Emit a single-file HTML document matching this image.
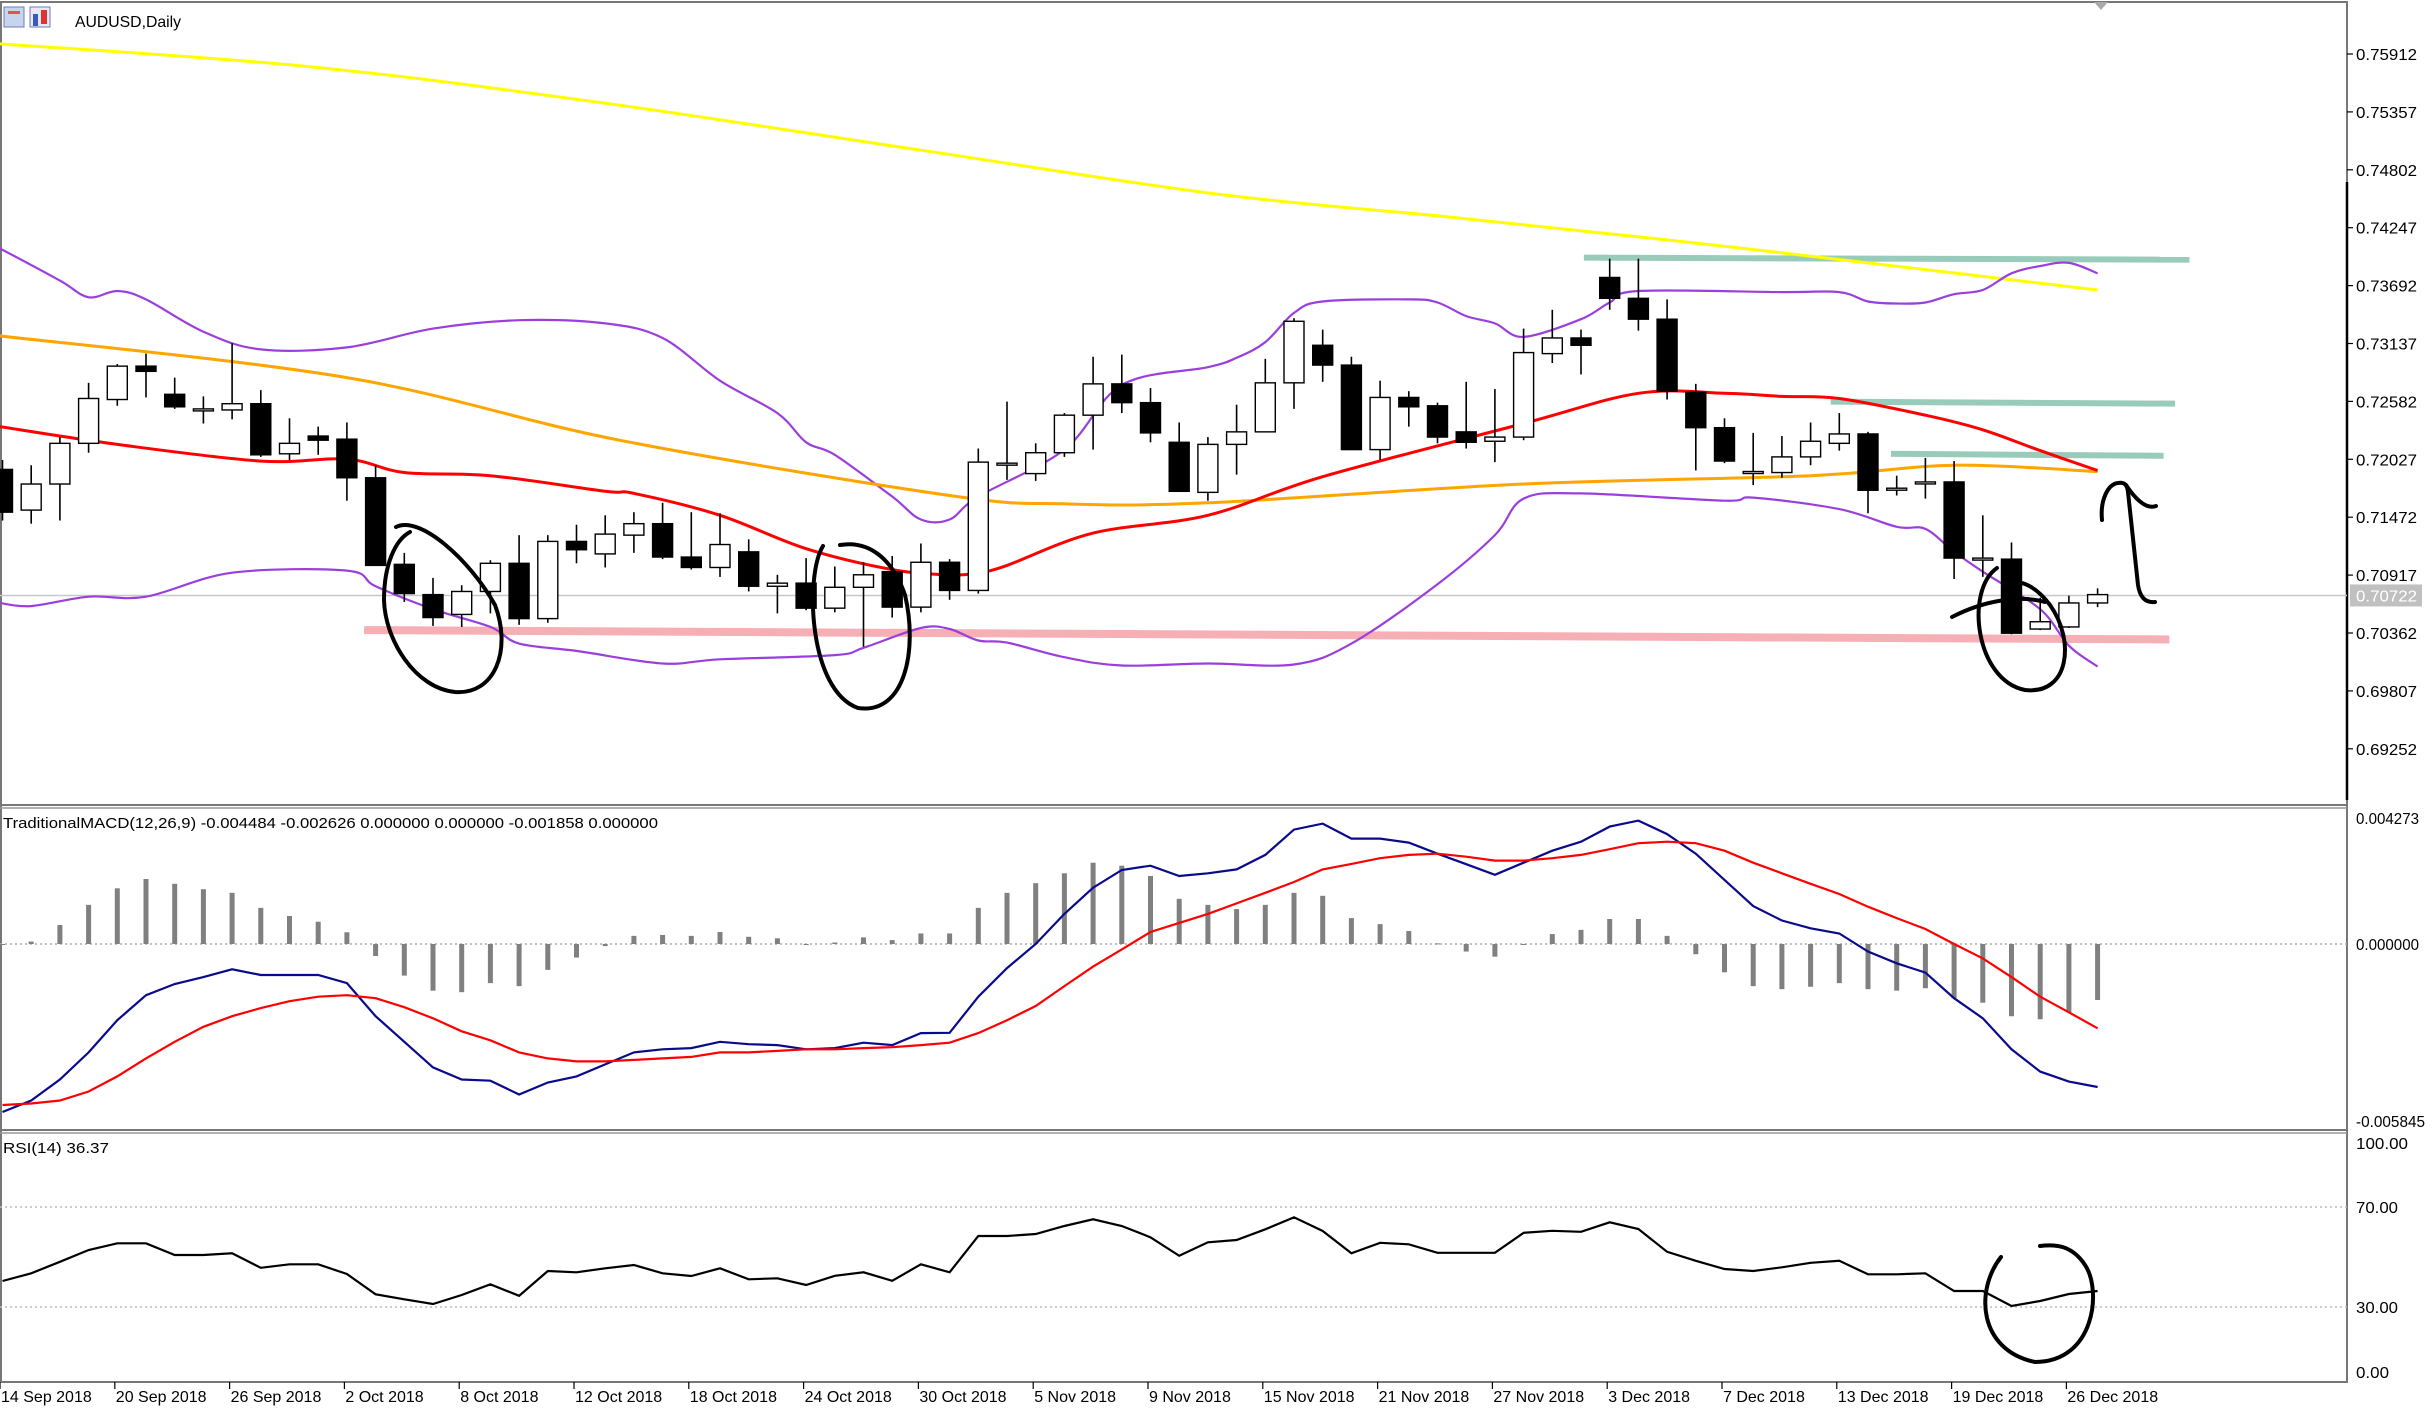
<!DOCTYPE html>
<html><head><meta charset="utf-8"><title>AUDUSD Daily</title>
<style>
html,body{margin:0;padding:0;background:#fff;}
svg{display:block;font-family:"Liberation Sans",sans-serif;}
</style></head>
<body>
<svg id="chart" width="2434" height="1413" viewBox="0 0 2434 1413" xmlns="http://www.w3.org/2000/svg">
<rect x="0" y="0" width="2434" height="1413" fill="#fff"/>
<g id="frame">
<rect x="1" y="2" width="2346" height="1380" fill="none" stroke="#777" stroke-width="2"/>
<line x1="0" y1="805" x2="2347" y2="805" stroke="#777" stroke-width="2"/>
<line x1="0" y1="808" x2="2347" y2="808" stroke="#999" stroke-width="1.5"/>
<line x1="0" y1="1130" x2="2347" y2="1130" stroke="#777" stroke-width="2"/>
<line x1="0" y1="1133" x2="2347" y2="1133" stroke="#999" stroke-width="1.5"/>
<line x1="2347" y1="182" x2="2347" y2="800" stroke="#000" stroke-width="2.5"/>
<polygon points="2094,2 2108,2 2101,10" fill="#aaa"/>
</g>
<g>
<rect x="4" y="7" width="20" height="20" fill="#c8d4ee" stroke="#6a7fb8"/>
<rect x="8" y="11" width="12" height="3" fill="#d55"/>
<rect x="30" y="7" width="20" height="20" fill="#e8e8f4" stroke="#6a7fb8"/>
<rect x="33" y="14" width="5" height="12" fill="#3b5bbb"/>
<rect x="41" y="10" width="6" height="14" fill="#d33"/>
<text x="75" y="27" font-size="16" textLength="106" lengthAdjust="spacingAndGlyphs" fill="#000">AUDUSD,Daily</text>
</g>
<g id="gMain"></g>
<g id="gMacd"></g>
<g id="gRsi"></g>
<g id="gAxis"></g>
<g id="gAnno"></g>
</svg>
<script>
// ---------- data ----------
const dateLabels = ["14 Sep 2018","20 Sep 2018","26 Sep 2018","2 Oct 2018","8 Oct 2018","12 Oct 2018","18 Oct 2018","24 Oct 2018","30 Oct 2018","5 Nov 2018","9 Nov 2018","15 Nov 2018","21 Nov 2018","27 Nov 2018","3 Dec 2018","7 Dec 2018","13 Dec 2018","19 Dec 2018","26 Dec 2018"];
const dateBarIdx = [0,4,8,12,16,20,24,28,32,36,40,44,48,52,56,60,64,68,72];
const opens  = [0.7193,0.7154,0.7179,0.7218,0.7260,0.7292,0.7265,0.7251,0.7250,0.7256,0.7208,0.7225,0.7222,0.7185,0.7102,0.7073,0.7054,0.7076,0.7103,0.7050,0.7124,0.7112,0.7130,0.7141,0.7109,0.7099,0.7114,0.7081,0.7084,0.7060,0.7080,0.7095,0.7061,0.7104,0.7077,0.7199,0.7189,0.7209,0.7245,0.7275,0.7257,0.7219,0.7171,0.7217,0.7229,0.7276,0.7312,0.7293,0.7212,0.7262,0.7254,0.7229,0.7220,0.7224,0.7304,0.7319,0.7377,0.7357,0.7337,0.7267,0.7233,0.7191,0.7190,0.7205,0.7218,0.7227,0.7175,0.7181,0.7181,0.7108,0.7107,0.7040,0.7042,0.7065];
const highs  = [0.7202,0.7197,0.7224,0.7276,0.7294,0.7304,0.7281,0.7263,0.7314,0.7269,0.7242,0.7234,0.7238,0.7197,0.7113,0.7089,0.7082,0.7106,0.7130,0.7130,0.7140,0.7149,0.7152,0.7161,0.7152,0.7151,0.7126,0.7092,0.7108,0.7100,0.7104,0.7110,0.7122,0.7107,0.7213,0.7258,0.7218,0.7247,0.7301,0.7303,0.7271,0.7238,0.7224,0.7255,0.7299,0.7338,0.7327,0.7301,0.7278,0.7268,0.7257,0.7277,0.7270,0.7328,0.7346,0.7327,0.7395,0.7395,0.7356,0.7275,0.7242,0.7228,0.7225,0.7238,0.7247,0.7229,0.7187,0.7204,0.7201,0.7149,0.7123,0.7070,0.7072,0.7079];
const lows   = [0.7144,0.7141,0.7144,0.7209,0.7254,0.7262,0.7251,0.7237,0.7241,0.7205,0.7202,0.7207,0.7163,0.7101,0.7066,0.7043,0.7042,0.7055,0.7044,0.7046,0.7103,0.7099,0.7113,0.7107,0.7097,0.7090,0.7076,0.7055,0.7058,0.7056,0.7023,0.7051,0.7056,0.7068,0.7074,0.7183,0.7182,0.7205,0.7212,0.7247,0.7219,0.7172,0.7163,0.7188,0.7229,0.7251,0.7277,0.7212,0.7202,0.7234,0.7218,0.7213,0.7200,0.7221,0.7295,0.7284,0.7346,0.7326,0.7260,0.7192,0.7199,0.7178,0.7185,0.7197,0.7211,0.7151,0.7168,0.7165,0.7088,0.7090,0.7035,0.7039,0.7041,0.7061];
const closes = [0.7152,0.7179,0.7218,0.7261,0.7292,0.7287,0.7253,0.7251,0.7256,0.7207,0.7218,0.7221,0.7185,0.7101,0.7074,0.7051,0.7076,0.7103,0.7050,0.7124,0.7116,0.7131,0.7141,0.7109,0.7099,0.7121,0.7081,0.7084,0.7060,0.7080,0.7092,0.7061,0.7104,0.7077,0.7200,0.7199,0.7209,0.7245,0.7275,0.7257,0.7228,0.7172,0.7217,0.7229,0.7276,0.7335,0.7293,0.7212,0.7262,0.7253,0.7224,0.7219,0.7224,0.7305,0.7319,0.7312,0.7357,0.7337,0.7268,0.7233,0.7201,0.7191,0.7205,0.7220,0.7227,0.7173,0.7175,0.7181,0.7108,0.7108,0.7036,0.7047,0.7065,0.7073];

const ma200Idx = [-0.1,10.7,21,32,42.3,50.4,58,65,73];
const ma200Val = [0.7601,0.7579,0.7544,0.7499,0.7457,0.7435,0.7413,0.7391,0.7365];
const ma100Idx = [-0.1,12,21.5,33,37,42,53,63,68,73];
const ma100Val = [0.7321,0.7281,0.7221,0.7168,0.7160,0.7161,0.7179,0.7187,0.7197,0.7191];
const ma20Idx = [-0.1,4,9,12,14,17,21,22,25,28,31,33,34,35,38,42,46,53,57,60,62,64,67,69,71,73];
const ma20Val = [0.7234,0.7217,0.7201,0.7203,0.7190,0.7187,0.7172,0.7170,0.7149,0.7117,0.7097,0.7092,0.7094,0.7101,0.7132,0.7149,0.7186,0.7237,0.7266,0.7266,0.7263,0.7261,0.7245,0.7231,0.7211,0.7192];
const bbUpIdx = [-0.1,2,3,4,5,7,9,12,15,18,21,23,25,27,28,29,31,32,33,34,37,39,42,43,44,45,46,49,50,51,52,53,55,56,57,62,64,65,66,67,68,69,70,71,72,73];
const bbUpVal = [0.7405,0.7374,0.7358,0.7364,0.7356,0.7325,0.7308,0.7310,0.7328,0.7336,0.7333,0.7319,0.7278,0.7247,0.7219,0.7207,0.7167,0.7145,0.7145,0.7167,0.7212,0.7274,0.7291,0.7300,0.7315,0.7343,0.7354,0.7356,0.7353,0.7340,0.7333,0.7320,0.7337,0.7353,0.7364,0.7363,0.7363,0.7354,0.7352,0.7353,0.7361,0.7365,0.7381,0.7388,0.7391,0.7381];
const bbLoIdx = [-0.1,1,3,5,8,12,13,15,17,18,20,23,25,29,30,32,33,34,35,37,39,42,45,47,50,52,53,55,60,61,64,66,67,68,69,71,72,73];
const bbLoVal = [0.7065,0.7062,0.7071,0.7071,0.7094,0.7096,0.7081,0.7059,0.7042,0.7026,0.7019,0.7007,0.7011,0.7015,0.7022,0.7041,0.7040,0.7029,0.7027,0.7013,0.7005,0.7007,0.7006,0.7026,0.7083,0.7130,0.7165,0.7170,0.7163,0.7166,0.7155,0.7138,0.7136,0.7114,0.7095,0.7059,0.7024,0.7004];

const priceTicks = [0.75912,0.75357,0.74802,0.74247,0.73692,0.73137,0.72582,0.72027,0.71472,0.70917,0.70362,0.69807,0.69252];
const currentPrice = 0.70722;

const macdHist = [0,0.00008,0.00063,0.0013,0.00185,0.00216,0.0020,0.00182,0.0017,0.0012,0.00093,0.00074,0.00039,-0.0004,-0.00105,-0.00155,-0.0016,-0.0013,-0.0014,-0.00086,-0.00045,-0.00007,0.00027,0.0003,0.00027,0.0004,0.00024,0.00019,0,0.00005,0.00022,0.00013,0.00035,0.00035,0.0012,0.0017,0.00202,0.00235,0.0027,0.0026,0.00226,0.0015,0.0013,0.00116,0.0013,0.0017,0.0016,0.00086,0.00066,0.00043,0.00002,-0.00025,-0.00042,0,0.00033,0.00047,0.00083,0.00083,0.00027,-0.00034,-0.00094,-0.0014,-0.0015,-0.00142,-0.0013,-0.0015,-0.00155,-0.00147,-0.0018,-0.00195,-0.0024,-0.0025,-0.00227,-0.00186];
const macdMain = [-0.00558,-0.0052,-0.0045,-0.0036,-0.00253,-0.0017,-0.00133,-0.0011,-0.00084,-0.00103,-0.00103,-0.00103,-0.0013,-0.0024,-0.00325,-0.0041,-0.0045,-0.00454,-0.005,-0.0046,-0.0044,-0.004,-0.0036,-0.0035,-0.00346,-0.00325,-0.00333,-0.00336,-0.0035,-0.00346,-0.00328,-0.00336,-0.00296,-0.00295,-0.00175,-0.0008,0,0.001,0.00187,0.00246,0.0026,0.00226,0.00235,0.00248,0.00296,0.0038,0.004,0.0035,0.0035,0.00337,0.0030,0.00265,0.0023,0.0027,0.0031,0.0034,0.0039,0.0041,0.00365,0.0030,0.00213,0.00126,0.00078,0.00052,0.00035,-0.00025,-0.00064,-0.00095,-0.0018,-0.00247,-0.0035,-0.00424,-0.00457,-0.00475];
const macdSignal = [-0.00535,-0.0053,-0.0052,-0.0049,-0.0044,-0.0038,-0.00325,-0.00275,-0.0024,-0.00213,-0.0019,-0.00175,-0.0017,-0.0018,-0.0021,-0.00247,-0.0029,-0.0032,-0.0036,-0.0038,-0.0039,-0.0039,-0.00385,-0.0038,-0.00375,-0.0036,-0.0036,-0.00355,-0.0035,-0.0035,-0.00346,-0.00343,-0.00336,-0.00328,-0.00296,-0.00253,-0.00206,-0.0014,-0.00075,-0.00018,0.0004,0.0007,0.001,0.00135,0.0017,0.00206,0.00248,0.00266,0.00285,0.00296,0.003,0.0029,0.00277,0.00277,0.00285,0.00296,0.00315,0.00335,0.0034,0.00335,0.0031,0.0027,0.00235,0.002,0.00166,0.00124,0.00086,0.0005,0,-0.00048,-0.0011,-0.00175,-0.00227,-0.0028];
const macdTicks = [0.004273,0,-0.005845];
const macdTickText = ["0.004273","0.000000","-0.005845"];

const rsiVals = [40.4,43.5,48.1,52.8,55.5,55.5,50.8,50.8,51.5,45.7,47.1,47.1,43.2,35.1,33.1,31.2,34.8,39.1,34.5,44.4,43.9,45.5,46.8,43.5,42.4,45.5,41.1,41.5,38.8,42.5,43.9,40.5,47.1,43.9,58.4,58.4,59.2,62.4,65.1,62.4,57.9,50.5,55.9,56.8,61.1,65.9,60.4,51.5,55.7,55.1,51.7,51.7,51.7,59.7,60.5,60.1,63.9,61.2,52.1,48.5,45.2,44.4,45.9,47.7,48.5,43.1,43.1,43.5,36.4,36.4,30.4,32.4,35.2,36.4];
const rsiTicks = [100,70,30,0];
const rsiTickText = ["100.00","70.00","30.00","0.00"];

const greenLevels = [0.7395,0.7257,0.7207];
const greenFrom = [55.1,63.7,65.8];
const greenTo = [76.2,75.7,75.3];
const supportFrom = [12.6,0.7039];
const supportTo = [75.5,0.7030];

// ---------- scales ----------
const NS = "http://www.w3.org/2000/svg";
const xB = i => 2.5 + 28.7 * i;
const yP = p => 54 + (0.75912 - p) / 0.00555 * 57.9;
const yM = v => 944 - v * 30100;
const yR = v => 1382 - v * 2.5;
function mk(tag, attrs, parent){
  const e = document.createElementNS(NS, tag);
  for (const k in attrs) e.setAttribute(k, attrs[k]);
  parent.appendChild(e);
  return e;
}
function smoothPath(idx, vals, fy){
  const P = idx.map((i,k)=>[xB(i), fy(vals[k])]);
  let d = "M"+P[0][0].toFixed(1)+","+P[0][1].toFixed(1);
  for (let k=0;k<P.length-1;k++){
    const p0 = P[Math.max(k-1,0)], p1 = P[k], p2 = P[k+1], p3 = P[Math.min(k+2,P.length-1)];
    const c1x = p1[0]+(p2[0]-p0[0])/6, c1y = p1[1]+(p2[1]-p0[1])/6;
    const c2x = p2[0]-(p3[0]-p1[0])/6, c2y = p2[1]-(p3[1]-p1[1])/6;
    d += " C"+c1x.toFixed(1)+","+c1y.toFixed(1)+" "+c2x.toFixed(1)+","+c2y.toFixed(1)+" "+p2[0].toFixed(1)+","+p2[1].toFixed(1);
  }
  return d;
}
const gMain = document.getElementById('gMain');
const gMacd = document.getElementById('gMacd');
const gRsi = document.getElementById('gRsi');
const gAxis = document.getElementById('gAxis');
const gAnno = document.getElementById('gAnno');

// current price line
let cl = mk('line',{x1:0,x2:2347,y1:yP(currentPrice),y2:yP(currentPrice),stroke:'#c8c8c8','stroke-width':1.5}, gMain);



// support & resistance annotation lines
let sup = mk('line',{x1:xB(supportFrom[0]),y1:yP(supportFrom[1]),x2:xB(supportTo[0]),y2:yP(supportTo[1]),stroke:'rgba(238,95,105,0.5)','stroke-width':8}, gMain);


greenLevels.forEach((p,k)=>{
  const g = mk('line',{x1:xB(greenFrom[k]),x2:xB(greenTo[k]),y1:yP(p)-1,y2:yP(p)+1,stroke:'rgba(70,160,130,0.55)','stroke-width':6}, gMain);
  
  
});

// moving averages and bands
const lines = [
  [ma200Idx, ma200Val, '#ffff00', 3, 'ma-yellow'],
  [bbUpIdx, bbUpVal, '#9b3fdc', 2.2, 'bollinger-upper'],
  [bbLoIdx, bbLoVal, '#9b3fdc', 2.2, 'bollinger-lower'],
  [ma100Idx, ma100Val, '#ffa500', 3, 'ma-orange'],
  [ma20Idx, ma20Val, '#ff0000', 3, 'ma-red']
];
lines.forEach(L=>{
  const pl = mk('path',{d:smoothPath(L[0],L[1],yP),fill:'none',stroke:L[2],'stroke-width':L[3],'stroke-linejoin':'round'}, gMain);
  
  
});

// candles
for (let i=0;i<opens.length;i++){
  const x = xB(i);
  const bull = closes[i] >= opens[i];
  const w = mk('line',{x1:x,x2:x,y1:yP(highs[i]),y2:yP(lows[i]),stroke:'#000','stroke-width':1.6}, gMain);
  
  
  const top = yP(Math.max(opens[i],closes[i]));
  const bot = yP(Math.min(opens[i],closes[i]));
  const h = Math.max(bot-top, 2);
  const b = mk('rect',{x:x-10,y:top,width:20,height:h,fill:bull?'#fff':'#000',stroke:'#000','stroke-width':1.4}, gMain);
  
  
}

// price axis
priceTicks.forEach(p=>{
  const y = yP(p);
  const t = mk('line',{x1:2347,x2:2353,y1:y,y2:y,stroke:'#000','stroke-width':1.2}, gAxis);
  
  
  const tx = mk('text',{x:2356,y:y+6,'font-size':16,textLength:61,lengthAdjust:'spacingAndGlyphs',fill:'#000'}, gAxis);
  tx.textContent = p.toFixed(5);
  
  
});
let cpb = mk('rect',{x:2350,y:yP(currentPrice)-11,width:72,height:22,fill:'#c0c0c0'}, gAxis);


let cpt = mk('text',{x:2356,y:yP(currentPrice)+6,'font-size':16,textLength:61,lengthAdjust:'spacingAndGlyphs',fill:'#fff'}, gAxis);
cpt.textContent = currentPrice.toFixed(5);



// MACD panel
let mz = mk('line',{x1:0,x2:2347,y1:yM(0),y2:yM(0),stroke:'#aaa','stroke-width':1.5,'stroke-dasharray':'2,3'}, gMacd);


macdHist.forEach((v,i)=>{
  const y0 = yM(0), y1 = yM(v);
  const r = mk('rect',{x:xB(i)-2.5,y:Math.min(y0,y1),width:5,height:Math.max(Math.abs(y1-y0),1),fill:'#808080'}, gMacd);
  
  
});
let mm = mk('polyline',{points:macdMain.map((v,i)=>xB(i).toFixed(1)+","+yM(v).toFixed(1)).join(" "),fill:'none',stroke:'#0a0a8c','stroke-width':2.2}, gMacd);


let ms = mk('polyline',{points:macdSignal.map((v,i)=>xB(i).toFixed(1)+","+yM(v).toFixed(1)).join(" "),fill:'none',stroke:'#ff0000','stroke-width':2.2}, gMacd);


let mt = mk('text',{x:3,y:828,'font-size':15,textLength:655,lengthAdjust:'spacingAndGlyphs',fill:'#000'}, gMacd);
mt.textContent = "TraditionalMACD(12,26,9) -0.004484 -0.002626 0.000000 0.000000 -0.001858 0.000000";


macdTicks.forEach((v,k)=>{
  const y = k===0 ? 818 : (k===2 ? 1121 : yM(v));
  const t = mk('text',{x:2356,y:y+6,'font-size':16,textLength:k===2?69:63,lengthAdjust:'spacingAndGlyphs',fill:'#000'}, gAxis);
  t.textContent = macdTickText[k];
  
  
});

// RSI panel
[70,30].forEach(v=>{
  const l = mk('line',{x1:0,x2:2347,y1:yR(v),y2:yR(v),stroke:'#bbb','stroke-width':1.5,'stroke-dasharray':'2,3'}, gRsi);
  
  
});
let rl = mk('polyline',{points:rsiVals.map((v,i)=>xB(i).toFixed(1)+","+yR(v).toFixed(1)).join(" "),fill:'none',stroke:'#000','stroke-width':2.2}, gRsi);


let rt = mk('text',{x:3,y:1153,'font-size':15,textLength:106,lengthAdjust:'spacingAndGlyphs',fill:'#000'}, gRsi);
rt.textContent = "RSI(14) 36.37";


rsiTicks.forEach((v,k)=>{
  const y = k===0 ? 1143 : (k===3 ? 1372 : yR(v));
  const t = mk('text',{x:2356,y:y+6,'font-size':16,textLength:k===0?52:(k===3?33:42),lengthAdjust:'spacingAndGlyphs',fill:'#000'}, gAxis);
  t.textContent = rsiTickText[k];
  
  
});

// date axis
dateBarIdx.forEach((i,k)=>{
  const x = xB(i) - 2.5;
  const t = mk('line',{x1:x,x2:x,y1:1382,y2:1389,stroke:'#000','stroke-width':1.2}, gAxis);
  
  
  const tx = mk('text',{x:x+1,y:1402,'font-size':16,fill:'#000'}, gAxis);
  tx.textContent = dateLabels[k];
  
  
});

// hand-drawn annotations
const annoPaths = [
  ["M396,527 C420,515 470,560 495,605 C512,650 495,695 455,692 C415,688 385,640 384,600 C384,565 395,540 410,532", 'circle-oct-low'],
  ["M823,546 C805,575 808,690 858,708 C905,715 918,650 905,595 C893,560 870,540 840,545", 'circle-oct-24'],
  ["M1952,617 C1985,600 2020,595 2045,602", 'stroke-dec-low'],
  ["M1997,568 C1965,590 1975,680 2025,690 C2070,695 2075,640 2050,605 C2035,585 2020,580 2010,583", 'circle-dec-low'],
  ["M2102,520 C2100,500 2108,484 2118,483 C2124,482 2127,484 2128,492 L2138,585 C2140,598 2146,603 2155,602", 'arrow-up-shaft'],
  ["M2126,485 C2134,497 2145,510 2156,506", 'arrow-up-head'],
  ["M2001,1257 C1975,1290 1978,1350 2035,1362 C2095,1362 2102,1290 2085,1265 C2072,1245 2055,1244 2040,1246", 'circle-rsi-low']
];
annoPaths.forEach(a=>{
  const p = mk('path',{d:a[0],fill:'none',stroke:'#000','stroke-width':4,'stroke-linecap':'round'}, gAnno);
  
  
});
</script>
</body></html>
